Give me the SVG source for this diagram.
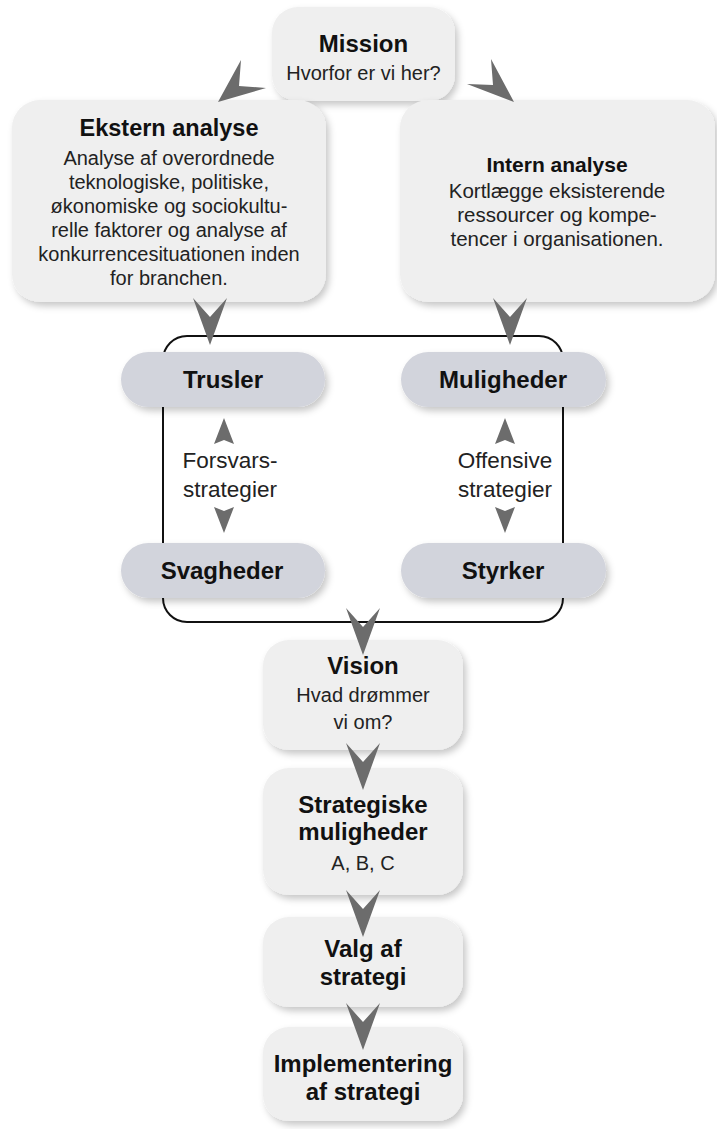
<svg xmlns="http://www.w3.org/2000/svg" width="717" height="1129" viewBox="0 0 717 1129">
<defs>
<filter id="sh" x="-10%" y="-10%" width="130%" height="130%">
<feDropShadow dx="3" dy="4" stdDeviation="3.5" flood-color="#000" flood-opacity="0.22"/>
</filter>
<style>
.box{fill:#efefef;filter:url(#sh)}
.pill{fill:#d2d4dc;filter:url(#sh)}
.t{font-family:"Liberation Sans",Arial,sans-serif;font-weight:bold;font-size:24px;fill:#111;text-anchor:middle}
.b{font-family:"Liberation Sans",Arial,sans-serif;font-size:20px;fill:#222;text-anchor:middle}
.s{font-family:"Liberation Sans",Arial,sans-serif;font-size:22.5px;fill:#222;text-anchor:middle}
.arr{fill:#6c6c6c}
</style>
<path id="chev" d="M0,0 L-17,-47 L0,-28 L17,-47 Z"/>
</defs>
<rect width="717" height="1129" fill="#fff"/>

<g id="mission">
<rect class="box" x="272" y="7" width="183" height="94" rx="26"/>
<text class="t" x="363.5" y="52">Mission</text>
<text class="b" x="363.5" y="80">Hvorfor er vi her?</text>
</g>

<g id="ekstern">
<rect class="box" x="12" y="100" width="314" height="202" rx="28"/>
<text class="t" x="169" y="136" style="font-size:23.5px">Ekstern analyse</text>
<text class="b" x="169" y="165">Analyse af overordnede</text>
<text class="b" x="169" y="189">teknologiske, politiske,</text>
<text class="b" x="169" y="213">økonomiske og sociokultu-</text>
<text class="b" x="169" y="237">relle faktorer og analyse af</text>
<text class="b" x="169" y="261">konkurrencesituationen inden</text>
<text class="b" x="169" y="285">for branchen.</text>
</g>

<g id="intern">
<rect class="box" x="400" y="100" width="315" height="202" rx="28"/>
<text class="t" x="557" y="172" style="font-size:21px">Intern analyse</text>
<text class="b" x="557" y="198" style="font-size:20.5px">Kortlægge eksisterende</text>
<text class="b" x="557" y="222" style="font-size:20.5px">ressourcer og kompe-</text>
<text class="b" x="557" y="246" style="font-size:20.5px">tencer i organisationen.</text>
</g>

<g id="swot-frame">
<rect x="163" y="336" width="400" height="286" rx="24" fill="none" stroke="#111" stroke-width="2"/>
</g>

<g id="trusler">
<rect class="pill" x="121" y="352" width="204" height="55" rx="27.5"/>
<text class="t" x="223" y="388">Trusler</text>
</g>
<g id="muligheder">
<rect class="pill" x="401" y="352" width="205" height="55" rx="27.5"/>
<text class="t" x="503" y="388">Muligheder</text>
</g>
<g id="svagheder">
<rect class="pill" x="121" y="543" width="204" height="55" rx="27.5"/>
<text class="t" x="222" y="579">Svagheder</text>
</g>
<g id="styrker">
<rect class="pill" x="401" y="543" width="205" height="55" rx="27.5"/>
<text class="t" x="503" y="579">Styrker</text>
</g>

<g id="forsvar-label">
<text class="s" x="230" y="468">Forsvars-</text>
<text class="s" x="230" y="497">strategier</text>
</g>
<g id="offensiv-label">
<text class="s" x="505" y="468">Offensive</text>
<text class="s" x="505" y="497">strategier</text>
</g>

<g id="vision">
<rect class="box" x="263" y="640" width="200" height="110" rx="26"/>
<text class="t" x="363" y="674">Vision</text>
<text class="b" x="363" y="702">Hvad drømmer</text>
<text class="b" x="363" y="729">vi om?</text>
</g>

<g id="strategiske">
<rect class="box" x="263" y="768" width="200" height="127" rx="26"/>
<text class="t" x="363" y="813">Strategiske</text>
<text class="t" x="363" y="840">muligheder</text>
<text class="b" x="363" y="870">A, B, C</text>
</g>

<g id="valg">
<rect class="box" x="263" y="917" width="200" height="90" rx="26"/>
<text class="t" x="363" y="957">Valg af</text>
<text class="t" x="363" y="985">strategi</text>
</g>

<g id="implementering">
<rect class="box" x="263" y="1027" width="200" height="94" rx="26"/>
<text class="t" x="363" y="1072">Implementering</text>
<text class="t" x="363" y="1100">af strategi</text>
</g>

<g id="connectors" class="arr">
<polygon points="218,102 241,60 239,86 266,88"/>
<polygon points="514,102 491,59 493,85 467,84"/>
<use href="#chev" x="210" y="345"/>
<use href="#chev" x="510" y="345"/>
<use href="#chev" x="363" y="655"/>
<use href="#chev" x="363" y="790"/>
<use href="#chev" x="363" y="937"/>
<use href="#chev" x="363" y="1050"/>
<polygon points="224,418 234,444 224,440 214,444"/>
<polygon points="224,533 234,507 224,511 214,507"/>
<polygon points="505,418 515,444 505,440 495,444"/>
<polygon points="505,533 515,507 505,511 495,507"/>
</g>
</svg>
